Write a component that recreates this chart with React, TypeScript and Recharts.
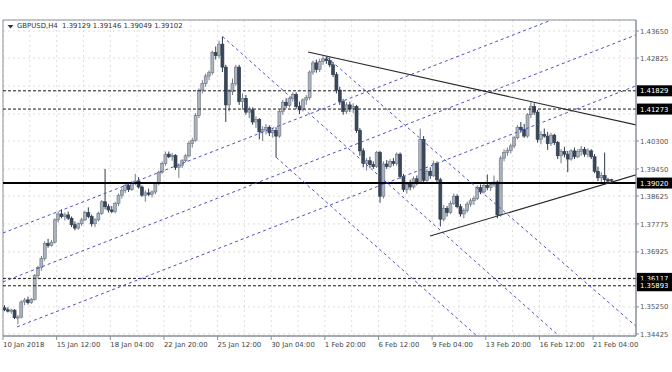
import React from "react";
import {
  Bar,
  CartesianGrid,
  ComposedChart,
  ReferenceArea,
  ReferenceLine,
  XAxis,
  YAxis,
} from "recharts";

// GBPUSD H4, one bar per 4 hours starting 10 Jan 2018 20:00
const opens = [
  1.3522, 1.3516, 1.3512, 1.3515, 1.3492, 1.3494, 1.354, 1.3546, 1.3538, 1.3548,
  1.362, 1.3645, 1.3672, 1.3718, 1.3712, 1.3722, 1.379, 1.3808, 1.38, 1.3805,
  1.3795, 1.3775, 1.3765, 1.3778, 1.379, 1.3812, 1.38, 1.3778, 1.379, 1.381,
  1.3845, 1.383, 1.382, 1.3815, 1.384, 1.3865, 1.388, 1.3894, 1.3882, 1.3902,
  1.3908, 1.389, 1.3865, 1.3872, 1.3868, 1.3875, 1.39, 1.3935, 1.3962, 1.399,
  1.3982, 1.3986, 1.395, 1.3955, 1.397, 1.3985, 1.4022, 1.4032, 1.4108, 1.4185,
  1.4205, 1.4228, 1.4238, 1.43, 1.429, 1.4325, 1.4255, 1.414, 1.418, 1.4205,
  1.4255, 1.415, 1.416, 1.4118, 1.4125, 1.4088, 1.4095, 1.4058, 1.4065, 1.4072,
  1.4055, 1.4062, 1.4045, 1.412, 1.4148, 1.4138, 1.416, 1.4172, 1.4135, 1.4125,
  1.4155, 1.4162, 1.424, 1.4268, 1.4248, 1.4272, 1.428, 1.4275, 1.4262, 1.4232,
  1.4185, 1.415, 1.412, 1.414, 1.4128, 1.4135, 1.4062, 1.4, 1.3962, 1.397,
  1.3958, 1.3952, 1.3995, 1.3862, 1.396, 1.3952, 1.3968, 1.3962, 1.399, 1.3922,
  1.3882, 1.3898, 1.389, 1.3915, 1.3905, 1.4035, 1.391, 1.3938, 1.3925, 1.3962,
  1.3912, 1.3792, 1.3825, 1.3812, 1.384, 1.3862, 1.383, 1.3808, 1.3818, 1.3838,
  1.3848, 1.3855, 1.3888, 1.3875, 1.3895, 1.3888, 1.3898, 1.3905, 1.3805, 1.3978,
  1.3995, 1.4002, 1.4015, 1.404, 1.4072, 1.4065, 1.4045, 1.411, 1.4135, 1.4118,
  1.4035, 1.405, 1.4045, 1.4022, 1.4048, 1.4025, 1.3985, 1.3998, 1.399, 1.3975,
  1.4, 1.3982, 1.3998, 1.4005, 1.399, 1.4, 1.3982, 1.3938, 1.3918, 1.3925,
  1.3912, 1.39129,
];
const highs = [
  1.353, 1.3524, 1.352, 1.3518, 1.35, 1.3545, 1.3552, 1.3556, 1.3552, 1.3625,
  1.365, 1.368, 1.3725, 1.3732, 1.3728, 1.3795, 1.3815, 1.3822, 1.3812, 1.3815,
  1.38, 1.3785, 1.3782, 1.3796, 1.3818, 1.3828, 1.3806, 1.3795, 1.3815, 1.385,
  1.3945, 1.3838, 1.3832, 1.3845, 1.387, 1.3888, 1.39, 1.3905, 1.3908, 1.393,
  1.392, 1.3895, 1.388, 1.3885, 1.388, 1.3905, 1.394, 1.3968, 1.3998, 1.3998,
  1.3994, 1.399, 1.3962, 1.3975, 1.399, 1.403, 1.404, 1.4115, 1.419, 1.4215,
  1.4235, 1.4245, 1.4305, 1.4318, 1.4335, 1.4348, 1.4262, 1.4188, 1.422, 1.4262,
  1.4262, 1.4175, 1.417, 1.4135, 1.4132, 1.4105, 1.41, 1.4075, 1.4082, 1.4078,
  1.407, 1.4072, 1.4125, 1.4155, 1.416, 1.4165, 1.4178, 1.4178, 1.415, 1.416,
  1.417, 1.4245, 1.4275, 1.4278, 1.428, 1.4288, 1.4288, 1.4285, 1.427, 1.424,
  1.4195, 1.4158, 1.4148, 1.415, 1.4145, 1.414, 1.407, 1.4008, 1.3978, 1.3982,
  1.3968, 1.4, 1.4, 1.3968, 1.3972, 1.3975, 1.3978, 1.3995, 1.3995, 1.393,
  1.3905, 1.3912, 1.3922, 1.3925, 1.4068, 1.4045, 1.3945, 1.395, 1.397, 1.3968,
  1.3918, 1.3835, 1.3832, 1.3848, 1.387, 1.3868, 1.3838, 1.3825, 1.3845, 1.3855,
  1.3862, 1.3895, 1.3898, 1.3902, 1.3928, 1.3902, 1.3925, 1.391, 1.3985, 1.4005,
  1.401, 1.4022, 1.4045, 1.4078, 1.4088, 1.4082, 1.4115, 1.4148, 1.4145, 1.4125,
  1.406, 1.4068, 1.4058, 1.4055, 1.4052, 1.403, 1.4005, 1.4012, 1.4, 1.4005,
  1.401, 1.4005, 1.4015, 1.4012, 1.4008, 1.4005, 1.399, 1.3952, 1.3935, 1.3995,
  1.3918, 1.39146,
];
const lows = [
  1.3512, 1.3508, 1.3504, 1.3488, 1.3472, 1.349, 1.353, 1.3532, 1.3534, 1.3544,
  1.3612, 1.3635, 1.3665, 1.3705, 1.3708, 1.3718, 1.3782, 1.3795, 1.3788, 1.379,
  1.3768, 1.3758, 1.376, 1.3772, 1.3786, 1.3795, 1.377, 1.3768, 1.3785, 1.3805,
  1.3822, 1.3812, 1.381, 1.381, 1.3832, 1.3855, 1.3872, 1.3875, 1.3878, 1.3895,
  1.3885, 1.386, 1.3845, 1.3862, 1.3858, 1.3868, 1.3895, 1.393, 1.3955, 1.3978,
  1.397, 1.3942, 1.3918, 1.3948, 1.3965, 1.398, 1.401, 1.4028, 1.41, 1.4175,
  1.4195, 1.4215, 1.4232, 1.4278, 1.4282, 1.424, 1.4088, 1.412, 1.417, 1.4198,
  1.414, 1.4125, 1.411, 1.41, 1.408, 1.407, 1.4035, 1.403, 1.405, 1.4045,
  1.404, 1.398, 1.404, 1.411, 1.413, 1.4132, 1.415, 1.4128, 1.4112, 1.412,
  1.414, 1.4155, 1.4232, 1.4238, 1.424, 1.4262, 1.4265, 1.4255, 1.4225, 1.4175,
  1.414, 1.411, 1.4112, 1.4118, 1.4115, 1.4055, 1.3985, 1.395, 1.394, 1.3948,
  1.3945, 1.3948, 1.3842, 1.3855, 1.3945, 1.3948, 1.3955, 1.3955, 1.3915, 1.3875,
  1.387, 1.388, 1.3885, 1.3895, 1.39, 1.3905, 1.3902, 1.3915, 1.392, 1.39,
  1.377, 1.3785, 1.38, 1.3808, 1.3835, 1.3825, 1.38, 1.3795, 1.3812, 1.383,
  1.3835, 1.385, 1.3868, 1.387, 1.388, 1.3878, 1.389, 1.3795, 1.38, 1.3968,
  1.3985, 1.3992, 1.4008, 1.4035, 1.4055, 1.404, 1.404, 1.41, 1.411, 1.4025,
  1.402, 1.404, 1.4003, 1.4015, 1.4018, 1.3975, 1.3962, 1.398, 1.3935, 1.397,
  1.3975, 1.3978, 1.3985, 1.3982, 1.398, 1.3975, 1.3932, 1.3908, 1.3905, 1.3905,
  1.39, 1.39049,
];
const closes = [
  1.3516, 1.3512, 1.3515, 1.3492, 1.3494, 1.354, 1.3546, 1.3538, 1.3548, 1.362,
  1.3645, 1.3672, 1.3718, 1.3712, 1.3722, 1.379, 1.3808, 1.38, 1.3805, 1.3795,
  1.3775, 1.3765, 1.3778, 1.379, 1.3812, 1.38, 1.3778, 1.379, 1.381, 1.3845,
  1.383, 1.382, 1.3815, 1.384, 1.3865, 1.388, 1.3894, 1.3882, 1.3902, 1.3908,
  1.389, 1.3865, 1.3872, 1.3868, 1.3875, 1.39, 1.3935, 1.3962, 1.399, 1.3982,
  1.3986, 1.395, 1.3955, 1.397, 1.3985, 1.4022, 1.4032, 1.4108, 1.4185, 1.4205,
  1.4228, 1.4238, 1.43, 1.429, 1.4325, 1.4255, 1.414, 1.418, 1.4205, 1.4255,
  1.415, 1.416, 1.4118, 1.4125, 1.4088, 1.4095, 1.4058, 1.4065, 1.4072, 1.4055,
  1.4062, 1.4045, 1.412, 1.4148, 1.4138, 1.416, 1.4172, 1.4135, 1.4125, 1.4155,
  1.4162, 1.424, 1.4268, 1.4248, 1.4272, 1.428, 1.4275, 1.4262, 1.4232, 1.4185,
  1.415, 1.412, 1.414, 1.4128, 1.4135, 1.4062, 1.4, 1.3962, 1.397, 1.3958,
  1.3952, 1.3995, 1.3862, 1.396, 1.3952, 1.3968, 1.3962, 1.399, 1.3922, 1.3882,
  1.3898, 1.389, 1.3915, 1.3905, 1.4035, 1.391, 1.3938, 1.3925, 1.3962, 1.3912,
  1.3792, 1.3825, 1.3812, 1.384, 1.3862, 1.383, 1.3808, 1.3818, 1.3838, 1.3848,
  1.3855, 1.3888, 1.3875, 1.3895, 1.3888, 1.3898, 1.3905, 1.3805, 1.3978, 1.3995,
  1.4002, 1.4015, 1.404, 1.4072, 1.4065, 1.4045, 1.411, 1.4135, 1.4118, 1.4035,
  1.405, 1.4045, 1.4022, 1.4048, 1.4025, 1.3985, 1.3998, 1.399, 1.3975, 1.4,
  1.3982, 1.3998, 1.4005, 1.399, 1.4, 1.3982, 1.3938, 1.3918, 1.3925, 1.3912,
  1.3908, 1.39102,
];

const xTickBars = [0, 16, 32, 48, 64, 80, 96, 112, 128, 144, 160, 176];
const xTickLabels = [
  "10 Jan 2018",
  "15 Jan 12:00",
  "18 Jan 04:00",
  "22 Jan 20:00",
  "25 Jan 12:00",
  "30 Jan 04:00",
  "1 Feb 20:00",
  "6 Feb 12:00",
  "9 Feb 04:00",
  "13 Feb 20:00",
  "16 Feb 12:00",
  "21 Feb 04:00",
];
const yTicks = [
  1.4365, 1.42825, 1.41975, 1.41125, 1.403, 1.3945, 1.38625, 1.37775, 1.36925,
  1.36075, 1.3525, 1.34425,
];
const priceBoxes = [1.41829, 1.41273, 1.3902, 1.36117, 1.35893];
const dashedLevels = [1.41829, 1.41273, 1.36117, 1.35893];
const mainLevel = 1.3902;

// [bar1, price1, bar2, price2]
const channelLines = [
  [-0.5, 1.375, 163, 1.4398],
  [-0.5, 1.3601, 188.3, 1.4353],
  [3.7, 1.3464, 188.3, 1.4198],
  [65, 1.4348, 165.4, 1.3436],
  [81, 1.398, 140.9, 1.3436],
  [96, 1.4286, 188.3, 1.3466],
];
const trendLines = [
  [90.5, 1.4301, 188.3, 1.4079],
  [126.9, 1.3741, 188.3, 1.3927],
];

const header = "GBPUSD,H4  1.39129 1.39146 1.39049 1.39102";

const X_DOMAIN: [number, number] = [-0.5, 188.3];
const Y_DOMAIN: [number, number] = [1.34363, 1.43985];
const FONT = "DejaVu Sans";

const data = closes.map((c, i) => ({
  i,
  o: opens[i],
  h: highs[i],
  l: lows[i],
  c,
  range: [lows[i], highs[i]],
}));

const gridBars: number[] = [];
for (let b = 0; b <= 184; b += 8) gridBars.push(b - 0.5);

// a scale label sitting under one of the black price boxes is not visible
const hiddenByBox = (v: number) =>
  !priceBoxes.includes(v) && priceBoxes.some((p) => Math.abs(p - v) < 0.0022);

function Candle(props: any) {
  const { x, y, width, height, payload } = props;
  if (!payload) return null;
  const { o, h, l, c } = payload;
  const top = Math.min(y, y + height);
  const bottom = Math.max(y, y + height);
  const ppu = h - l > 0 ? (bottom - top) / (h - l) : 0;
  const yO = top + (h - o) * ppu;
  const yC = top + (h - c) * ppu;
  const bodyTop = Math.min(yO, yC);
  const bodyH = Math.max(Math.abs(yO - yC), 1);
  const up = c >= o;
  const cx = x + width / 2;
  return (
    <g>
      <line
        x1={cx}
        x2={cx}
        y1={top}
        y2={bottom}
        stroke={up ? "#707a86" : "#2e3b4b"}
        strokeWidth={1}
      />
      <rect
        x={x}
        y={bodyTop}
        width={width}
        height={bodyH}
        fill={up ? "#aab2bc" : "#3a4758"}
        stroke={up ? "#6c7682" : "#2e3b4b"}
        strokeWidth={0.6}
      />
    </g>
  );
}

function XTick(props: any) {
  const { x, y, payload } = props;
  const idx = xTickBars.indexOf(Math.round(payload.value + 0.5));
  return (
    <text
      x={x}
      y={y + 7}
      fontSize={6.9}
      fontFamily={FONT}
      fill="#444"
      textAnchor="start"
    >
      {xTickLabels[idx]}
    </text>
  );
}

function YTick(props: any) {
  const { x, y, payload } = props;
  const v = payload.value;
  if (priceBoxes.includes(v)) {
    return (
      <g>
        <rect x={x - 3} y={y - 5.5} width={36} height={11} fill="#000" />
        <text x={x} y={y + 2.6} fontSize={6.9} fontFamily={FONT} fill="#fff">
          {v.toFixed(5)}
        </text>
      </g>
    );
  }
  if (hiddenByBox(v)) return <g />;
  return (
    <text x={x} y={y + 2.6} fontSize={6.9} fontFamily={FONT} fill="#555">
      {v.toFixed(5)}
    </text>
  );
}

export default function App() {
  return (
    <div
      style={{
        position: "absolute",
        left: 0,
        top: 0,
        width: 672,
        height: 372,
        background: "#fff",
      }}
    >
      <ComposedChart
        width={672}
        height={372}
        data={data}
        margin={{ top: 20, right: 0, bottom: 16, left: 3 }}
      >
        <CartesianGrid
          stroke="#dedede"
          strokeDasharray="2 3"
          verticalValues={gridBars}
        />
        <XAxis
          dataKey="i"
          type="number"
          domain={X_DOMAIN}
          allowDataOverflow
          ticks={xTickBars.map((b) => b - 0.5)}
          interval={0}
          height={20}
          tickSize={4}
          tickMargin={0}
          stroke="#8a9099"
          tick={<XTick />}
        />
        <YAxis
          type="number"
          orientation="right"
          domain={Y_DOMAIN}
          allowDataOverflow
          ticks={[...yTicks, ...priceBoxes]}
          interval={0}
          width={36}
          tickSize={3}
          tickMargin={1}
          stroke="#8a9099"
          tick={<YTick />}
        />
        <ReferenceArea
          x1={X_DOMAIN[0]}
          x2={X_DOMAIN[1]}
          y1={Y_DOMAIN[0]}
          y2={Y_DOMAIN[1]}
          fill="none"
          stroke="#8a9099"
          ifOverflow="visible"
        />
        <Bar
          dataKey="range"
          barSize={3}
          isAnimationActive={false}
          shape={<Candle />}
        />
        {dashedLevels.map((v) => (
          <ReferenceLine
            key={v}
            y={v}
            stroke="#222"
            strokeDasharray="3 2"
            strokeWidth={1}
          />
        ))}
        <ReferenceLine y={mainLevel} stroke="#000" strokeWidth={2} />
        {channelLines.map((s, k) => (
          <ReferenceLine
            key={"c" + k}
            segment={[
              { x: s[0], y: s[1] },
              { x: s[2], y: s[3] },
            ]}
            stroke="#4f4fc8"
            strokeDasharray="3 3"
            strokeWidth={1}
            ifOverflow="hidden"
          />
        ))}
        {trendLines.map((s, k) => (
          <ReferenceLine
            key={"t" + k}
            segment={[
              { x: s[0], y: s[1] },
              { x: s[2], y: s[3] },
            ]}
            stroke="#2a2a2a"
            strokeWidth={1.1}
            ifOverflow="hidden"
          />
        ))}
      </ComposedChart>
      <div
        style={{
          position: "absolute",
          left: 7,
          top: 22,
          fontFamily: FONT,
          fontSize: 6.9,
          color: "#333",
          whiteSpace: "pre",
          display: "flex",
          alignItems: "center",
          lineHeight: "9px",
        }}
      >
        <svg width={9} height={6} style={{ marginRight: 1 }}>
          <polygon points="0.5,1 6.5,1 3.5,4.5" fill="#333" />
        </svg>
        {header}
      </div>
    </div>
  );
}
